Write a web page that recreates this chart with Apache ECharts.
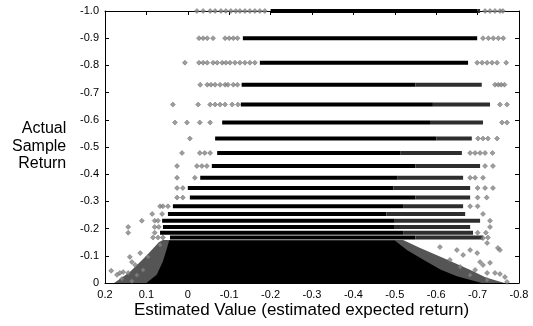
<!DOCTYPE html>
<html>
<head>
<meta charset="utf-8">
<script src="https://cdn.jsdelivr.net/npm/echarts@6/dist/echarts.min.js"></script>
<style>
html, body { margin: 0; padding: 0; background: #fff; }
#chart { width: 533px; height: 326px; }
</style>
</head>
<body>
<div id="chart"></div>
<script>
// discrete return levels (one row of points per level)
var rowLevels = [-1.0, -0.9, -0.81, -0.729, -0.656, -0.59, -0.531, -0.478, -0.43,
                 -0.387, -0.349, -0.314, -0.282, -0.254, -0.229, -0.206, -0.185, -0.167];
// where the dense run of each row begins / stays solid black / ends
var rowStart    = [-0.2, -0.133, -0.174, -0.13, -0.128, -0.083, -0.066, -0.071, -0.058,
                   -0.03, 0.0, -0.005, 0.036, 0.048, 0.062, 0.06, 0.067, 0.043];
var rowSolidEnd = [-0.70, -0.699, -0.677, -0.55, -0.592, -0.585, -0.60, -0.513, -0.55,
                   -0.507, -0.497, -0.55, -0.52, -0.48, -0.50, -0.50, -0.52, -0.55];
var rowEnd      = [-0.706, -0.699, -0.677, -0.71, -0.73, -0.713, -0.686, -0.662, -0.706,
                   -0.665, -0.682, -0.682, -0.665, -0.67, -0.706, -0.682, -0.689, -0.713];
// isolated points left and right of each dense run
var rowLeftDots = [
    [-0.022, -0.037, -0.054, -0.066, -0.080, -0.092, -0.104, -0.116, -0.126, -0.138, -0.150, -0.162, -0.174, -0.186],
    [-0.027, -0.037, -0.047, -0.061, -0.090, -0.100, -0.110, -0.120],
    [0.007, -0.027, -0.037, -0.047, -0.061, -0.071, -0.083, -0.092, -0.102, -0.114, -0.126, -0.138, -0.150, -0.162],
    [-0.03, -0.047, -0.056, -0.066, -0.078, -0.090, -0.097, -0.11, -0.12],
    [0.036, -0.025, -0.054, -0.066, -0.078, -0.090, -0.107, -0.121],
    [0.031, 0.002, -0.029, -0.054],
    [-0.005],
    [0.014, -0.029, -0.041, -0.054],
    [0.026, -0.022, -0.034, -0.046],
    [0.026, -0.017],
    [0.026, 0.012],
    [0.026, 0.012],
    [0.067, 0.06, 0.048],
    [0.086, 0.062],
    [0.111, 0.080, 0.072],
    [0.144, 0.08, 0.07],
    [0.144, 0.08],
    [0.084, 0.072, 0.06]
];
var rowRightDots = [
    [-0.718, -0.730, -0.742, -0.754, -0.761],
    [-0.713, -0.726, -0.738, -0.750, -0.762],
    [-0.699, -0.711, -0.723, -0.735, -0.747, -0.769],
    [-0.742, -0.750, -0.757, -0.765],
    [-0.754, -0.771],
    [-0.759, -0.771],
    [-0.701, -0.713, -0.725, -0.747],
    [-0.682, -0.694, -0.706, -0.718, -0.736],
    [-0.718, -0.737],
    [-0.682, -0.694, -0.713],
    [-0.70, -0.718, -0.737],
    [-0.70, -0.722],
    [-0.682, -0.70],
    [-0.713],
    [-0.73],
    [-0.73],
    [-0.70, -0.72],
    [-0.725]
];
// outline of the dense cloud near zero (speckled zone and solid core)
var cloudX = [0.178, 0.14, 0.10, 0.07, 0.06, -0.52, -0.56, -0.62, -0.68, -0.72, -0.765];
var cloudY = [0, -0.04, -0.1, -0.15, -0.158, -0.158, -0.13, -0.09, -0.05, -0.02, 0];
var coreX = [0.10, 0.075, 0.06, 0.05, 0.045, -0.5, -0.53, -0.57, -0.61, -0.65, -0.69, -0.71];
var coreY = [0, -0.03, -0.08, -0.13, -0.156, -0.156, -0.12, -0.085, -0.05, -0.025, -0.008, 0];
// loose points around the cloud
var looseX = [0.067, 0.115, 0.14, 0.135, 0.127, 0.096, 0.156, 0.164, 0.144, 0.123, 0.108, 0.135, 0.171, 0.185, 0.159,
              -0.713, -0.723, -0.749, -0.754, -0.706, -0.713, -0.730, -0.723, -0.742, -0.754, -0.766, -0.723, -0.771,
              -0.694, -0.682, -0.665, -0.650, -0.682, -0.699, -0.633, -0.658, -0.609];
var looseY = [-0.14, -0.11, -0.096, -0.077, -0.066, -0.096, -0.04, -0.037, -0.037, -0.029, -0.048, -0.007, -0.03, -0.045, -0.015,
              -0.165, -0.147, -0.129, -0.121, -0.077, -0.066, -0.074, -0.037, -0.037, -0.033, -0.022, -0.011, -0.004,
              -0.048, -0.029, -0.103, -0.121, -0.121, -0.11, -0.085, -0.059, -0.132];

var xTitle = 'Estimated Value (estimated expected return)';
var yTitle = 'Actual\nSample\nReturn';
var font = 'Liberation Sans, Arial, Helvetica, sans-serif';

function zip(xs, ys) {
    var out = [];
    for (var i = 0; i < xs.length; i++) out.push([xs[i], ys[i]]);
    return out;
}

// 0 shows as "0", the rest with one decimal
function fmt(v) {
    if (Math.abs(v) < 1e-9) return '0';
    return v.toFixed(1);
}

var series = [];

series.push({
    type: 'line', data: zip(cloudX, cloudY), symbol: 'none', silent: true,
    lineStyle: { width: 0 }, areaStyle: { color: '#555', opacity: 1 }, z: 1
});
series.push({
    type: 'line', data: zip(coreX, coreY), symbol: 'none', silent: true,
    lineStyle: { width: 0 }, areaStyle: { color: '#000', opacity: 1 }, z: 2
});

var dots = [];
for (var i = 0; i < rowLevels.length; i++) {
    var lvl = rowLevels[i];
    series.push({
        type: 'line', data: [[rowStart[i], lvl], [rowSolidEnd[i], lvl]], symbol: 'none',
        clip: false, silent: true, lineStyle: { color: '#000', width: 4 }, z: 3
    });
    series.push({
        type: 'line', data: [[rowSolidEnd[i], lvl], [rowEnd[i], lvl]], symbol: 'none',
        clip: false, silent: true, lineStyle: { color: '#2e2e2e', width: 4 }, z: 3
    });
    rowLeftDots[i].forEach(function (x) { dots.push([x, lvl]); });
    rowRightDots[i].forEach(function (x) { dots.push([x, lvl]); });
}
zip(looseX, looseY).forEach(function (p) { dots.push(p); });

series.push({
    type: 'scatter', data: dots, symbol: 'diamond', symbolSize: 5, clip: false, silent: true,
    itemStyle: { color: '#858585', borderColor: '#555', borderWidth: 0.5 }, z: 4
});

function xAx(pos, labels) {
    return {
        type: 'value', position: pos, min: -0.8, max: 0.2, interval: 0.1, inverse: true,
        axisLine: { show: true, onZero: false, lineStyle: { color: '#000', width: 1 } },
        axisTick: { show: true, inside: true, length: 4, lineStyle: { color: '#000' } },
        axisLabel: { show: labels, formatter: fmt, color: '#000', fontSize: 11, margin: 6, fontFamily: font },
        splitLine: { show: false }
    };
}
function yAx(pos, labels) {
    return {
        type: 'value', position: pos, min: -1, max: 0, interval: 0.1, inverse: true,
        axisLine: { show: true, onZero: false, lineStyle: { color: '#000', width: 1 } },
        axisTick: { show: true, inside: true, length: 4, lineStyle: { color: '#000' } },
        axisLabel: { show: labels, formatter: fmt, color: '#000', fontSize: 11, margin: 6, fontFamily: font },
        splitLine: { show: false }
    };
}

var myChart = echarts.init(document.getElementById('chart'));
var option = {
    animation: false,
    backgroundColor: '#fff',
    grid: { left: 105, right: 14, top: 11, bottom: 43 },
    xAxis: [xAx('bottom', true), xAx('top', false)],
    yAxis: [yAx('left', true), yAx('right', false)],
    graphic: [
        { type: 'text', left: 12, top: 120, style: { text: yTitle, font: '16px ' + font, fill: '#000', textAlign: 'right', lineHeight: 17.5 } },
        { type: 'text', left: 134, top: 302, style: { text: xTitle, font: '17px ' + font, fill: '#000' } }
    ],
    series: series
};
myChart.setOption(option);
</script>
</body>
</html>
